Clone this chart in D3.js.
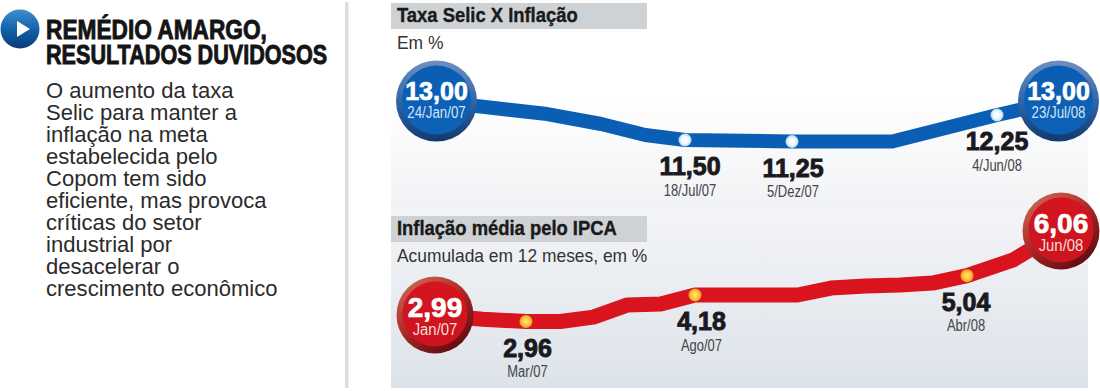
<!DOCTYPE html>
<html lang="pt-BR">
<head>
    <meta charset="UTF-8">
    <title>Remédio amargo, resultados duvidosos</title>
    <script src="https://d3js.org/d3.v7.min.js"></script>
    <style>
        html, body { margin: 0; padding: 0; background: #fff; }
        svg { display: block; }
        text { font-family: "Liberation Sans", Arial, sans-serif; }
        .headline { font-size: 27px; font-weight: bold; fill: #141414; stroke: #141414; stroke-width: .9; }
        .body { font-size: 21.5px; fill: #2b2b2b; }
        .panelTitle { font-size: 20px; font-weight: bold; fill: #1a1a1a; stroke: #1a1a1a; stroke-width: .4; }
        .panelSub { font-size: 18.5px; fill: #333; }
        .val { font-size: 25px; font-weight: bold; text-anchor: middle; fill: #1a1a1e; stroke: #1a1a1e; stroke-width: .9; }
        .when { font-size: 16px; text-anchor: middle; fill: #444; }
        .badgeVal { font-weight: bold; text-anchor: middle; fill: #fff; stroke: #fff; stroke-width: .7; }
        .badgeWhen { font-size: 16px; text-anchor: middle; }
    </style>
</head>
<body>
<svg width="1100" height="391"></svg>

<script>
    const parse = d3.timeParse("%Y-%m-%d");

    const headlineLines = ["REMÉDIO AMARGO,", "RESULTADOS DUVIDOSOS"];
    const bodyLines = ["O aumento da taxa", "Selic para manter a", "inflação na meta", "estabelecida pelo",
        "Copom tem sido", "eficiente, mas provoca", "críticas do setor", "industrial por",
        "desacelerar o", "crescimento econômico"];

    const selicDates = ["2007-01-24", "2007-02-21", "2007-04-12", "2007-05-20", "2007-06-20", "2007-07-18", "2007-12-05", "2008-03-03", "2008-06-04", "2008-07-23"];
    const selicValues = [13.00, 12.73, 12.30, 11.98, 11.65, 11.50, 11.25, 11.25, 12.25, 13.00];
    const selicMarks = [5, 6, 8];
    const selicBadges = [0, 9];
    const selicLabels = ["24/Jan/07", "", "", "", "", "18/Jul/07", "5/Dez/07", "", "4/Jun/08", "23/Jul/08"];

    // ipca mensal
    const ipcaMonths = ["2007-01-01", "2007-02-01", "2007-03-01", "2007-04-01", "2007-05-01", "2007-06-01", "2007-07-01", "2007-08-01", "2007-09-01",
        "2007-10-01", "2007-11-01", "2007-12-01", "2008-01-01", "2008-02-01", "2008-03-01", "2008-04-01", "2008-05-01", "2008-06-01"];
    const ipcaValues = [2.99, 2.97, 2.96, 2.96, 2.98, 3.59, 3.64, 4.18, 4.18, 4.18, 4.18, 4.49, 4.58, 4.63, 4.71, 5.04, 5.40, 6.06];
    const ipcaMarks = [2, 7, 15];
    const ipcaBadges = [0, 17];
    const ipcaLabels = ["Jan/07", "", "Mar/07", "", "", "", "", "Ago/07", "", "", "", "", "", "", "", "Abr/08", "", "Jun/08"];

    const fmt = v => v.toFixed(2).replace(".", ",");

    const svg = d3.select("svg");
    const defs = svg.append("defs");

    function linear(id, stops, x2, y2) {
        const g = defs.append("linearGradient").attr("id", id)
            .attr("x1", 0).attr("y1", 0).attr("x2", x2).attr("y2", y2);
        stops.forEach(s => g.append("stop").attr("offset", s[0]).attr("stop-color", s[1]));
    }
    function radial(id, stops) {
        const g = defs.append("radialGradient").attr("id", id);
        stops.forEach(s => g.append("stop").attr("offset", s[0]).attr("stop-color", s[1]));
    }
    linear("bgTop", [[0, "#ffffff"], [.45, "#ffffff"], [1, "#f1f2f5"]], 0, 1);
    linear("bgBottom", [[0, "#f3f4f6"], [1, "#dde3ea"]], 0, 1);
    linear("ringBlue", [[0, "#6f90bf"], [.5, "#2f66ab"], [1, "#113a6e"]], 0, 1);
    linear("ringRed", [[0, "#d0775f"], [.5, "#b22b28"], [1, "#600c10"]], .7, 1);
    linear("faceBlue", [[0, "#0a5db4"], [1, "#0e62b6"]], 0, 1);
    linear("faceRed", [[0, "#d5141f"], [1, "#cc1420"]], 0, 1);
    linear("button", [[0, "#3f8fd0"], [.55, "#0f5ea8"], [1, "#0b3b78"]], 0, 1);
    radial("dotBlue", [[0, "#ffffff"], [.6, "#eef7fd"], [1, "#a9d3f2"]]);
    radial("dotRed", [[0, "#ffe676"], [.55, "#fdc93f"], [1, "#f29a22"]]);

    // nao ha fonte condensada instalada, entao ajusta o texto na horizontal
    function squeeze(sel, k) {
        sel.each(function(d, i) {
            const f = Array.isArray(k) ? k[i] : k;
            this.setAttribute("textLength", this.getComputedTextLength() * f);
            this.setAttribute("lengthAdjust", "spacingAndGlyphs");
        });
    }

    // coluna de texto
    svg.append("circle").attr("cx", 20).attr("cy", 29).attr("r", 19.5).attr("fill", "url(#button)");
    svg.append("path").attr("d", "M17,21 L30,29 L17,37 Z").attr("fill", "#fff");
    svg.selectAll("text.headline").data(headlineLines).enter().append("text")
        .attr("class", "headline").attr("x", 46).attr("y", (d, i) => 39 + i * 24.5).text(d => d)
        .call(squeeze, [.84, .8]);
    svg.selectAll("text.body").data(bodyLines).enter().append("text")
        .attr("class", "body").attr("x", 46).attr("y", (d, i) => 98 + i * 22).text(d => d)
        .call(squeeze, 1.025);
    svg.append("rect").attr("x", 345).attr("y", 2).attr("width", 3.5).attr("height", 386).attr("fill", "#d6dde5");

    // fundos
    svg.append("rect").attr("x", 391).attr("y", 3).attr("width", 697).attr("height", 209).attr("fill", "url(#bgTop)");
    svg.append("rect").attr("x", 391).attr("y", 212).attr("width", 697).attr("height", 176).attr("fill", "url(#bgBottom)");

    function panelHead(y, title, sub) {
        svg.append("rect").attr("x", 391).attr("y", y).attr("width", 256).attr("height", 26).attr("fill", "#cfd2d5");
        svg.append("text").attr("class", "panelTitle").attr("x", 397).attr("y", y + 18.5).text(title).call(squeeze, .92);
        svg.append("text").attr("class", "panelSub").attr("x", 397).attr("y", y + 46).text(sub).call(squeeze, .94);
    }
    panelHead(3, "Taxa Selic X Inflação", "Em %");
    panelHead(216, "Inflação média pelo IPCA", "Acumulada em 12 meses, em %");

    function drawSeries(o) {
        const data = o.dates.map((d, i) => ({date: parse(d), value: o.values[i], label: o.labels[i]}));
        const line = d3.line().x(d => o.x(d.date)).y(d => o.y(d.value));

        svg.append("path").datum(data).attr("d", line)
            .attr("fill", "none").attr("stroke", o.color).attr("stroke-width", o.width).attr("stroke-linejoin", "round");

        const marks = o.marks.map(i => data[i]);
        svg.selectAll("circle." + o.name).data(marks).enter().append("circle").attr("class", o.name)
            .attr("cx", d => o.x(d.date)).attr("cy", d => o.y(d.value)).attr("r", 6.5).attr("fill", o.dot);

        marks.forEach((d, i) => {
            const cx = o.x(d.date) + o.labelDx[i], cy = o.y(d.value);
            svg.append("text").attr("class", "val").attr("x", cx).attr("y", cy + 35).text(fmt(d.value));
            svg.append("text").attr("class", "when").attr("x", cx).attr("y", cy + 55.5).text(d.label).call(squeeze, .81);
        });

        o.badges.map(i => data[i]).forEach(d => {
            const cx = o.x(d.date), cy = o.y(d.value);
            svg.append("circle").attr("cx", cx).attr("cy", cy).attr("r", o.r).attr("fill", o.ring);
            svg.append("circle").attr("cx", cx).attr("cy", cy - 1).attr("r", o.r - 6).attr("fill", o.face);
            svg.append("text").attr("class", "badgeVal").attr("x", cx).attr("y", cy + o.valDy)
                .style("font-size", o.valSize + "px").text(fmt(d.value));
            svg.append("text").attr("class", "badgeWhen").attr("x", cx).attr("y", cy + o.whenDy)
                .attr("fill", o.whenColor).text(d.label).call(squeeze, o.whenK);
        });
    }

    // os graficos nao tem escala uniforme, por isso as escalas sao por trechos
    drawSeries({
        name: "selic", dates: selicDates, values: selicValues, labels: selicLabels,
        marks: selicMarks, badges: selicBadges,
        x: d3.scaleTime().domain(["2007-01-24", "2007-07-18", "2007-12-05", "2008-06-04", "2008-07-23"].map(parse))
            .range([436.5, 685, 792, 997, 1058.5]),
        y: d3.scaleLinear().domain([11.25, 11.5, 12.25, 13]).range([141.5, 140, 115, 101]),
        color: "#0a5fb4", width: 14, dot: "url(#dotBlue)",
        labelDx: [5, 1, 0], r: 40.5, ring: "url(#ringBlue)", face: "url(#faceBlue)",
        valSize: 25, valDy: -1, whenDy: 17, whenColor: "#d3e3f5", whenK: .83
    });

    drawSeries({
        name: "ipca", dates: ipcaMonths, values: ipcaValues, labels: ipcaLabels,
        marks: ipcaMarks, badges: ipcaBadges,
        x: d3.scaleTime().domain(["2007-01-01", "2007-03-01", "2007-08-01", "2008-04-01", "2008-06-01"].map(parse))
            .range([435, 526, 695, 967, 1061]),
        y: d3.scaleLinear().domain([2.96, 2.99, 4.18, 5.04, 6.06]).range([321.5, 315, 295, 275.7, 231]),
        color: "#d9141e", width: 15, dot: "url(#dotRed)",
        labelDx: [1.5, 6.5, -1], r: 38.5, ring: "url(#ringRed)", face: "url(#faceRed)",
        valSize: 28, valDy: 2, whenDy: 20, whenColor: "#f7dcd6", whenK: .93
    });
</script>

</body>
</html>
